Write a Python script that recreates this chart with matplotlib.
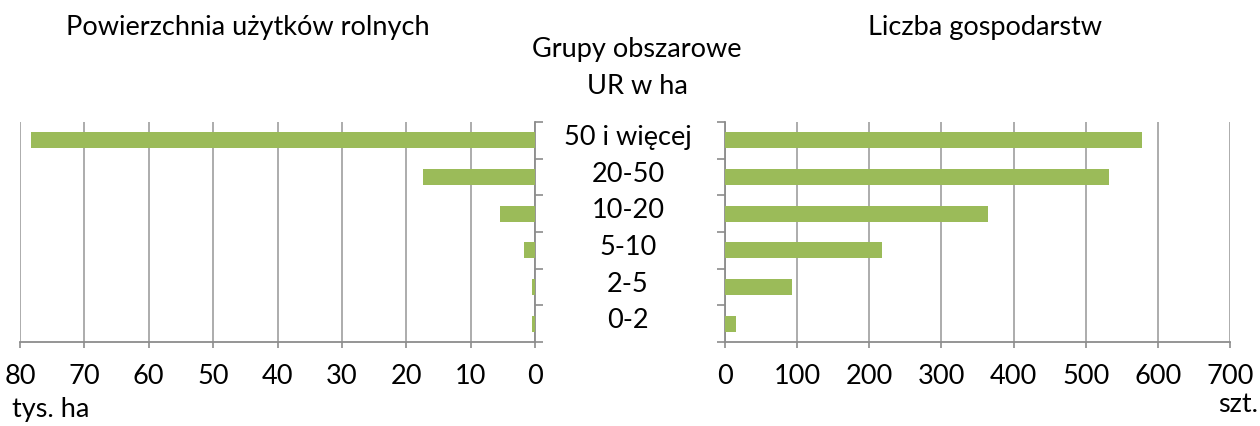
import matplotlib.pyplot as plt
import numpy as np

plt.rcParams['font.family'] = ['Lato', 'DejaVu Sans']

groups = ['50 i więcej', '20-50', '10-20', '5-10', '2-5', '0-2']
area = [78.3, 17.4, 5.4, 1.7, 0.4, 0.4]        # tys. ha
farms = [578, 532, 364, 218, 93, 15]            # szt.

left_ticks = [80, 70, 60, 50, 40, 30, 20, 10, 0]
right_ticks = [0, 100, 200, 300, 400, 500, 600, 700]

bar_color = '#9BBB59'
grid_color = '#a6a6a6'
spine_color = '#8c8c8c'
fs = 19.5

W, H = 1260, 426
fig = plt.figure(figsize=(W / 100, H / 100), dpi=100)

ax1 = fig.add_axes([20 / W, 84 / H, 515 / W, 220 / H])
ax2 = fig.add_axes([725 / W, 84 / H, 505 / W, 220 / H])

y = np.arange(len(groups))
bounds = np.arange(len(groups) + 1) - 0.5

for ax, vals, ticks in [(ax1, area, left_ticks), (ax2, farms, right_ticks)]:
    ax.barh(y, vals, height=0.43, color=bar_color, zorder=3)
    ax.set_ylim(len(groups) - 0.5, -0.5)
    ax.set_xticks(ticks)
    ax.set_xticklabels([str(t) for t in ticks], fontsize=fs)
    ax.grid(axis='x', color=grid_color, linewidth=1.3, zorder=0)
    ax.set_yticks(bounds)
    ax.set_yticklabels([])
    ax.tick_params(axis='x', length=4, width=1.2, color=spine_color, pad=12)
    ax.tick_params(axis='y', length=6, width=1.2, color=spine_color)
    for s in ['top', 'left', 'right', 'bottom']:
        ax.spines[s].set_visible(False)
    ax.spines['bottom'].set_visible(True)
    ax.spines['bottom'].set_color(spine_color)
    ax.spines['bottom'].set_linewidth(1.3)

ax1.set_xlim(80, 0)
ax1.spines['right'].set_visible(True)
ax1.spines['right'].set_color(spine_color)
ax1.spines['right'].set_linewidth(1.3)
ax1.yaxis.tick_right()

ax2.set_xlim(0, 700)
ax2.spines['left'].set_visible(True)
ax2.spines['left'].set_color(spine_color)
ax2.spines['left'].set_linewidth(1.3)

# category labels between panels
for i, g in enumerate(groups):
    ax1.annotate(g, xy=(1, i), xycoords=('axes fraction', 'data'),
                 xytext=(67, 2), textcoords='offset points',
                 ha='center', va='center', fontsize=fs)

fig.text(248 / W, 1 - 27 / H, 'Powierzchnia użytków rolnych', ha='center', va='center', fontsize=fs)
fig.text(985 / W, 1 - 27 / H, 'Liczba gospodarstw', ha='center', va='center', fontsize=fs)
fig.text(637 / W, 1 - 50 / H, 'Grupy obszarowe', ha='center', va='center', fontsize=fs)
fig.text(637 / W, 1 - 86 / H, 'UR w ha', ha='center', va='center', fontsize=fs)
fig.text(12 / W, 1 - 410 / H, 'tys. ha', ha='left', va='center', fontsize=fs)
fig.text(1258 / W, 1 - 405 / H, 'szt.', ha='right', va='center', fontsize=fs)

fig.savefig('out.png', dpi=100)
